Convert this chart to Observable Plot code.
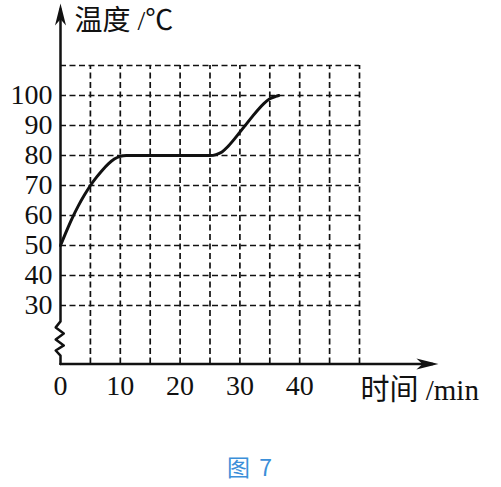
<!DOCTYPE html>
<html><head><meta charset="utf-8">
<script src="https://cdn.jsdelivr.net/npm/d3@7"></script>
<script src="https://cdn.jsdelivr.net/npm/@observablehq/plot@0.6"></script>
<style>
body{margin:0;background:#fff;}
#wrap{position:relative;width:501px;height:487px;}
#cap{position:absolute;top:449px;left:0;width:501px;text-align:center;font:23px "Noto Sans CJK SC",sans-serif;color:#3b8fd9;letter-spacing:2px;}
</style>
</head><body>
<div id="wrap"><div id="chart"></div><div id="cap">图 7</div></div>
<script>
// curve data: time (min) vs temperature (°C)
const times = [0, 1, 2, 3, 4, 5, 6, 7, 8, 9, 10, 11, 15, 20, 25, 26, 27, 28, 29, 30, 31, 32, 33, 34, 35, 36, 36.5];
const temps = [50, 54.8, 59.3, 63.3, 66.8, 70, 72.7, 75.1, 77.2, 78.8, 79.7, 80, 80, 80, 80, 80.3, 81.2, 83, 85.3, 87.8, 90.3, 92.8, 95.2, 97.3, 98.9, 99.7, 100];
const xTicks = [0, 10, 20, 30, 40];
const yTicks = [30, 40, 50, 60, 70, 80, 90, 100];
const xGrid = [5, 10, 15, 20, 25, 30, 35, 40, 45, 50];
const yGrid = [30, 40, 50, 60, 70, 80, 90, 100, 110];
const xMin = 0, xMax = 50, yMin = 10.5, yMax = 110;
const xArrowTip = 63.2, yArrowTip = 130.7;
// axis break (zigzag) on the y axis
const breakY = [24.7, 22.7, 20.7, 18.7, 16.7, 15, 13.3];
const breakX = [0, -0.8, 0.55, -0.8, 0.55, -0.8, 0];
const yTitle = "温度 /℃";
const xTitle = "时间 /min";

const curve = times.map((t, i) => ({t, v: temps[i]}));
const yAxisLine = [{x: 0, y: yArrowTip - 2}]
  .concat(breakY.map((y, i) => ({x: breakX[i], y})))
  .concat([{x: 0, y: yMin}]);

const arrowSym = {
  draw(context, size) {
    const s = Math.sqrt(size / Math.PI);
    context.moveTo(0, 0);
    context.lineTo(0.5 * s, 2 * s);
    context.lineTo(0, 1.45 * s);
    context.lineTo(-0.5 * s, 2 * s);
    context.closePath();
  }
};

const serif = '"Liberation Serif","Noto Sans CJK SC",serif';
const chart = Plot.plot({
  width: 501, height: 440,
  marginTop: 65, marginBottom: 76.5, marginLeft: 60, marginRight: 142,
  x: {domain: [xMin, xMax]},
  y: {domain: [yMin, yMax]},
  style: {fontFamily: serif, fontSize: "28px", background: "#fff", overflow: "visible", color: "#111"},
  marks: [
    Plot.ruleX(xGrid, {y1: yMin, y2: yMax, stroke: "#111", strokeWidth: 1.7, strokeDasharray: "6,3.5"}),
    Plot.ruleY(yGrid, {x1: xMin, x2: xMax, stroke: "#111", strokeWidth: 1.7, strokeDasharray: "6,3.5"}),
    Plot.line(yAxisLine, {x: "x", y: "y", stroke: "#111", strokeWidth: 2.5}),
    Plot.line([{x: xMin, y: yMin}, {x: xArrowTip - 1, y: yMin}], {x: "x", y: "y", stroke: "#111", strokeWidth: 2.5}),
    Plot.dot([{x: 0, y: yArrowTip}], {x: "x", y: "y", symbol: arrowSym, r: 11, fill: "#111", stroke: "none"}),
    Plot.dot([{x: xArrowTip, y: yMin}], {x: "x", y: "y", symbol: arrowSym, r: 11, fill: "#111", stroke: "none", rotate: 90}),
    Plot.line(curve, {x: "t", y: "v", curve: "monotone-x", stroke: "#111", strokeWidth: 3}),
    Plot.axisY(yTicks, {tickSize: 0, tickPadding: 8, fontSize: 28, label: null}),
    Plot.axisX(xTicks, {tickSize: 0, tickPadding: 11, fontSize: 28, label: null}),
    Plot.text([yTitle], {text: d => d, frameAnchor: "top-left", dx: 14, dy: -44, textAnchor: "start", lineAnchor: "middle", fontSize: 28}),
    Plot.text([xTitle], {text: d => d, frameAnchor: "bottom-right", dx: 1, dy: 27, textAnchor: "start", lineAnchor: "middle", fontSize: 29})
  ]
});
document.getElementById("chart").appendChild(chart);
</script>
</body></html>
